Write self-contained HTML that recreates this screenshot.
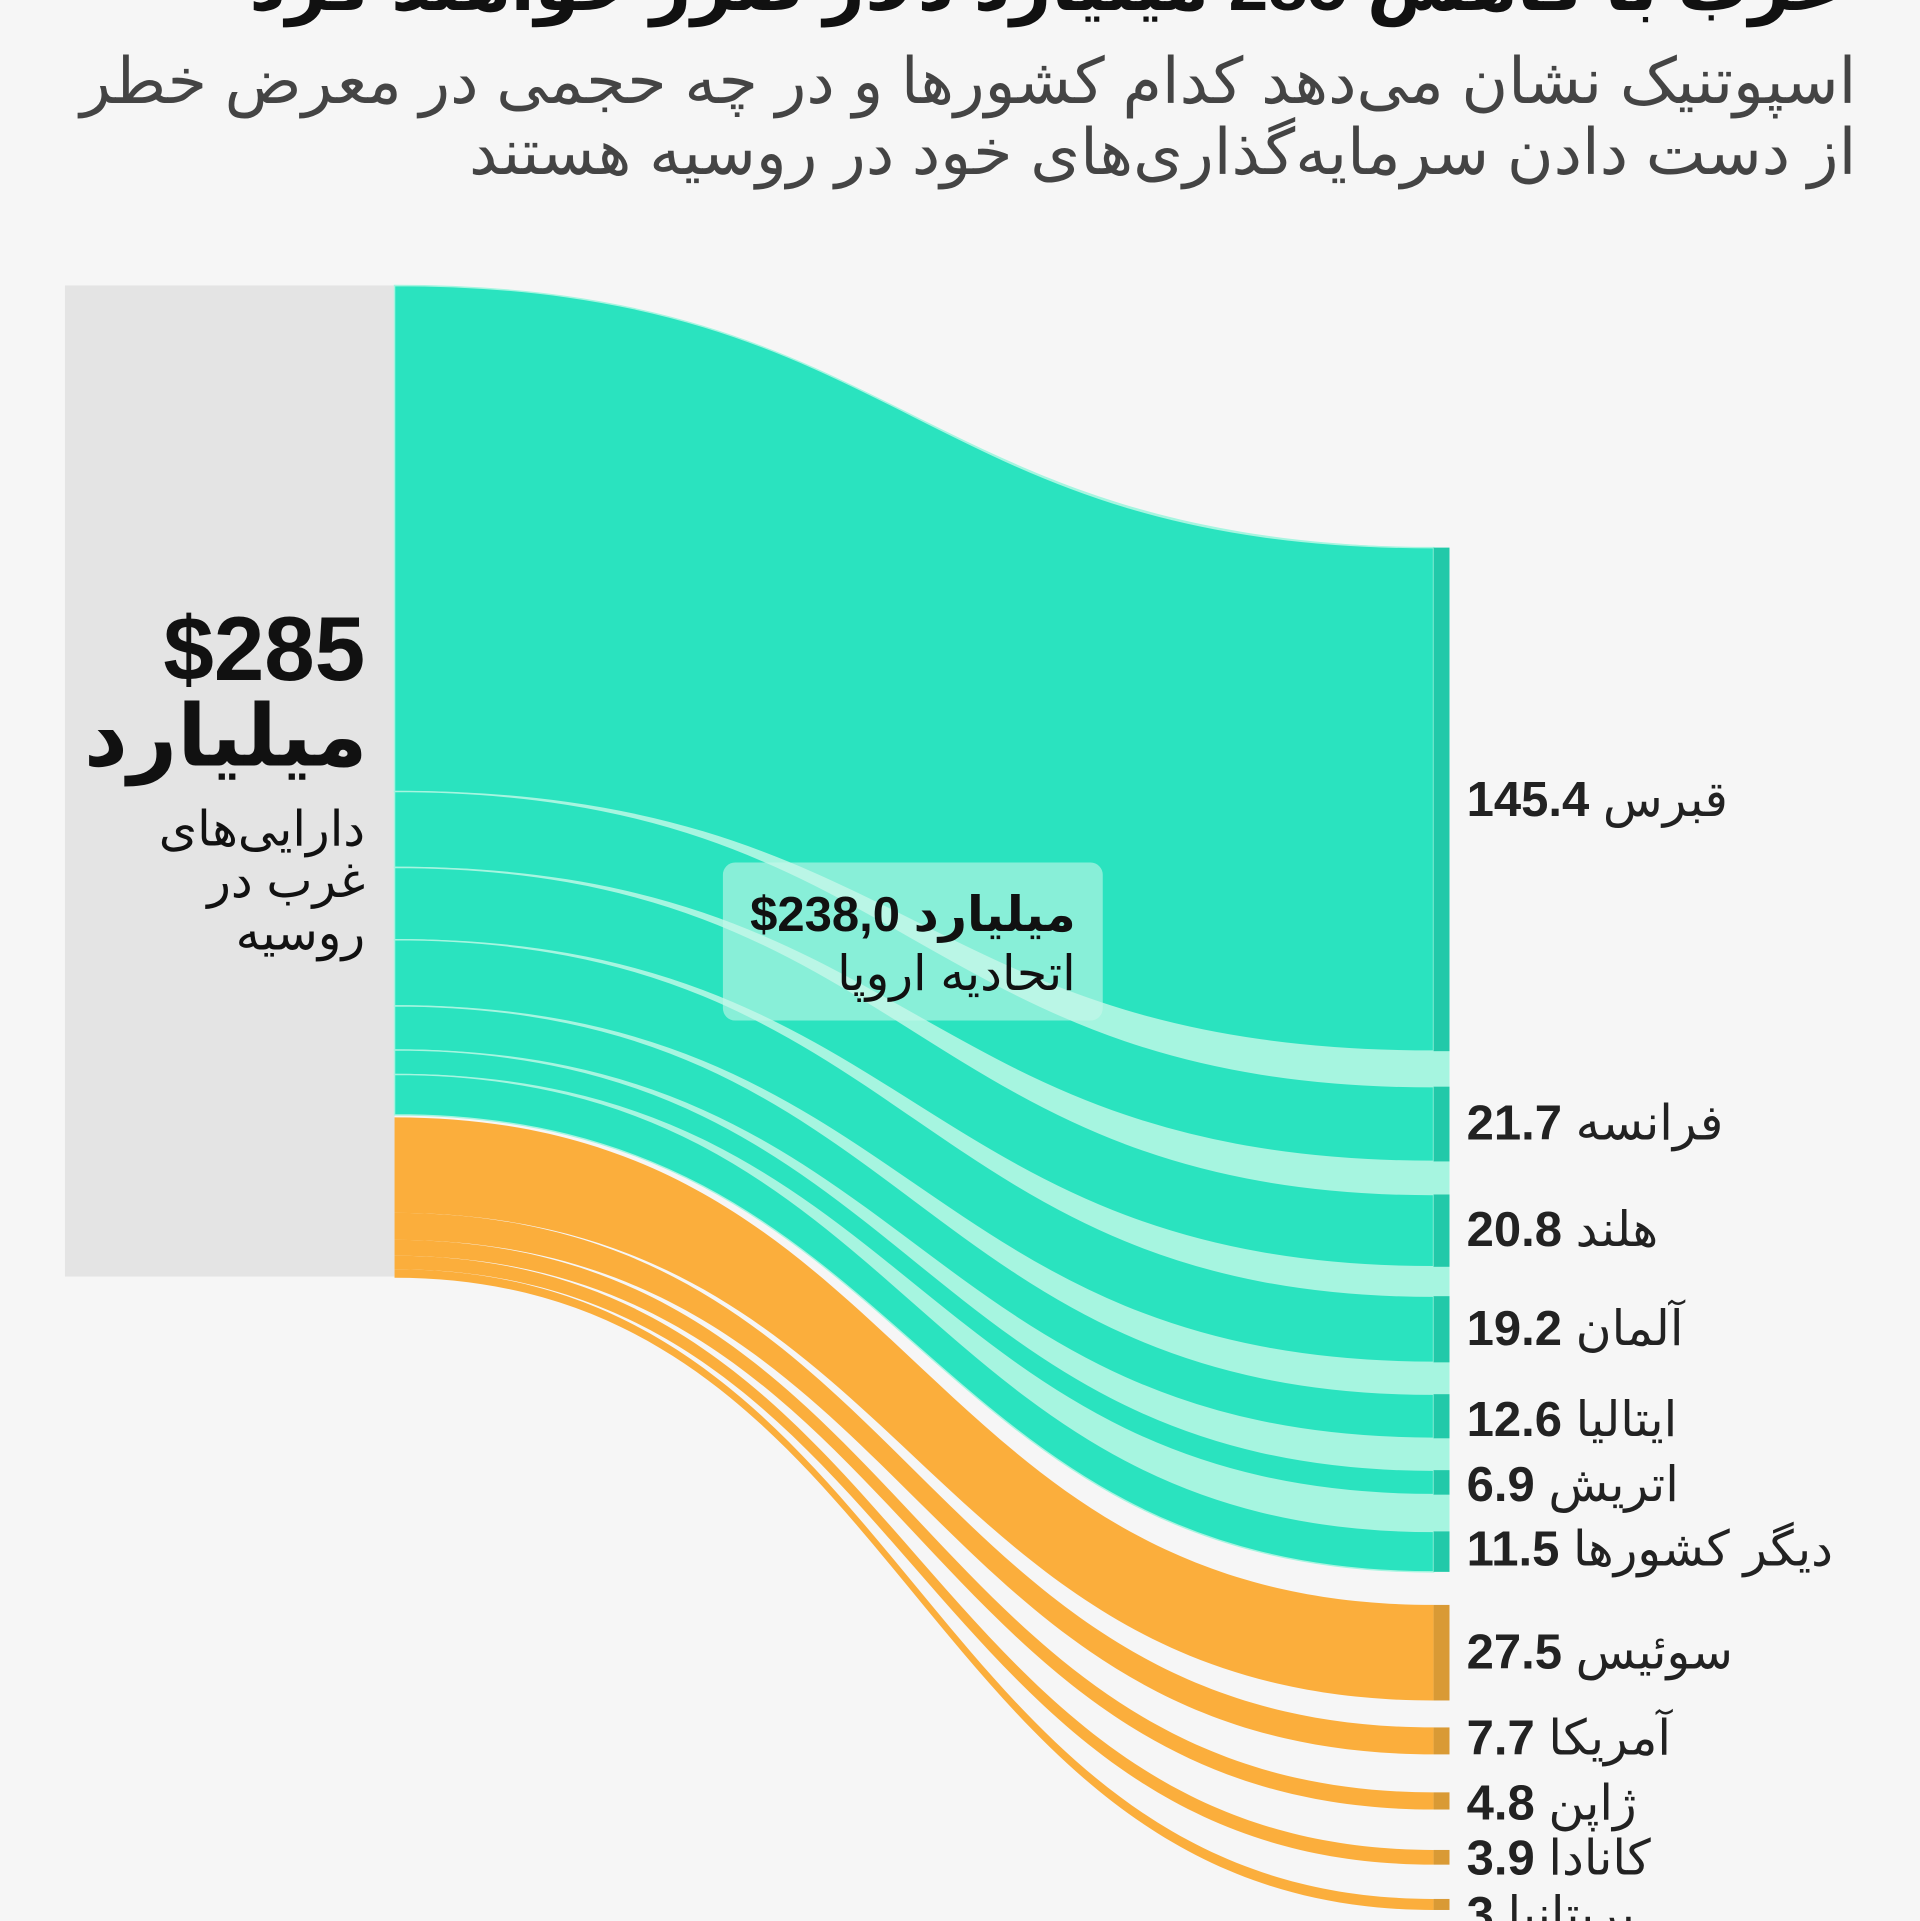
<!DOCTYPE html>
<html><head><meta charset="utf-8"><style>
html,body{margin:0;padding:0;background:#f6f6f6;}
svg{display:block}
text{font-family:"Liberation Sans","DejaVu Sans",sans-serif;}
</style></head><body>
<svg width="1920" height="1921" viewBox="0 0 1567 1568" preserveAspectRatio="none" xmlns="http://www.w3.org/2000/svg">
<rect width="1567" height="1568" fill="#f6f6f6"/>
<text x="1503" y="8" text-anchor="end" font-size="58" font-weight="bold" fill="#111">غرب با کاهش 285 میلیارد دلار ضرر خواهند کرد</text>
<text x="1515" y="84" text-anchor="end" font-size="52" fill="#444">اسپوتنیک نشان می‌دهد کدام کشورها و در چه حجمی در معرض خطر</text>
<text x="1515" y="142" text-anchor="end" font-size="52" fill="#444">از دست دادن سرمایه‌گذاری‌های خود در روسیه هستند</text>
<rect x="53" y="233" width="269" height="809" fill="#e4e4e4"/>
<path d="M322,233 C746,233 746,447 1183,447 L1183,1283 C746,1283 746,910 322,910 Z" fill="#a6f5e0"/>
<g fill="#2ae3bf" stroke="#a6f5e0" stroke-width="1.2">
<path d="M322,233 C746,233 746,447 1170,447 L1170,858 C746,858 746,646 322,646 Z"/>
<path d="M322,646 C746,646 746,887 1170,887 L1170,948 C746,948 746,708 322,708 Z"/>
<path d="M322,708 C746,708 746,975 1170,975 L1170,1034 C746,1034 746,767 322,767 Z"/>
<path d="M322,767 C746,767 746,1058 1170,1058 L1170,1112 C746,1112 746,821 322,821 Z"/>
<path d="M322,821 C746,821 746,1138 1170,1138 L1170,1174 C746,1174 746,857 322,857 Z"/>
<path d="M322,857 C746,857 746,1200 1170,1200 L1170,1220 C746,1220 746,877 322,877 Z"/>
<path d="M322,877 C746,877 746,1250 1170,1250 L1170,1283 C746,1283 746,910 322,910 Z"/>
</g>
<g fill="#22c9a9">
<rect x="1170" y="447" width="13" height="411"/><rect x="1170" y="887" width="13" height="61"/>
<rect x="1170" y="975" width="13" height="59"/><rect x="1170" y="1058" width="13" height="54"/>
<rect x="1170" y="1138" width="13" height="36"/><rect x="1170" y="1200" width="13" height="20"/>
<rect x="1170" y="1250" width="13" height="33"/>
</g>
<g fill="#fbae3c">
<path d="M322,912 C746,912 746,1310 1170,1310 L1170,1388 C746,1388 746,990 322,990 Z"/>
<path d="M322,990 C746,990 746,1410 1170,1410 L1170,1432 C746,1432 746,1012 322,1012 Z"/>
<path d="M322,1012 C746,1012 746,1463 1170,1463 L1170,1477 C746,1477 746,1025 322,1025 Z"/>
<path d="M322,1025 C746,1025 746,1510 1170,1510 L1170,1522 C746,1522 746,1036 322,1036 Z"/>
<path d="M322,1036 C746,1036 746,1550 1170,1550 L1170,1559 C746,1559 746,1043 322,1043 Z"/>
</g>
<g fill="#d99a35">
<rect x="1170" y="1310" width="13" height="78"/><rect x="1170" y="1410" width="13" height="22"/>
<rect x="1170" y="1463" width="13" height="14"/><rect x="1170" y="1510" width="13" height="12"/>
<rect x="1170" y="1550" width="13" height="9"/>
</g>
<rect x="590" y="704" width="310" height="129" rx="10" fill="#c8f7ea" fill-opacity="0.6"/>
<text x="878" y="760" text-anchor="end" font-size="40" font-weight="bold" fill="#111">$238,0 میلیارد</text>
<text x="878" y="808" text-anchor="end" font-size="40" fill="#111">اتحادیه اروپا</text>
<g fill="#111" text-anchor="end">
<text x="298" y="555" font-size="74" font-weight="bold">$285</text>
<text x="300" y="625" font-size="70" font-weight="bold">میلیارد</text>
<text x="298" y="690" font-size="40">دارایی‌های</text>
<text x="298" y="732" font-size="40">غرب در</text>
<text x="298" y="775" font-size="40">روسیه</text>
</g>
<g fill="#222" font-size="40">
<text x="1197" y="666"><tspan font-weight="bold">145.4</tspan> قبرس</text>
<text x="1197" y="930"><tspan font-weight="bold">21.7</tspan> فرانسه</text>
<text x="1197" y="1017"><tspan font-weight="bold">20.8</tspan> هلند</text>
<text x="1197" y="1098"><tspan font-weight="bold">19.2</tspan> آلمان</text>
<text x="1197" y="1172"><tspan font-weight="bold">12.6</tspan> ایتالیا</text>
<text x="1197" y="1225"><tspan font-weight="bold">6.9</tspan> اتریش</text>
<text x="1197" y="1278"><tspan font-weight="bold">11.5</tspan> دیگر کشورها</text>
<text x="1197" y="1362"><tspan font-weight="bold">27.5</tspan> سوئیس</text>
<text x="1197" y="1432"><tspan font-weight="bold">7.7</tspan> آمریکا</text>
<text x="1197" y="1485"><tspan font-weight="bold">4.8</tspan> ژاپن</text>
<text x="1197" y="1530"><tspan font-weight="bold">3.9</tspan> کانادا</text>
<text x="1197" y="1576"><tspan font-weight="bold">3</tspan> بریتانیا</text>
</g>
</svg>
</body></html>
